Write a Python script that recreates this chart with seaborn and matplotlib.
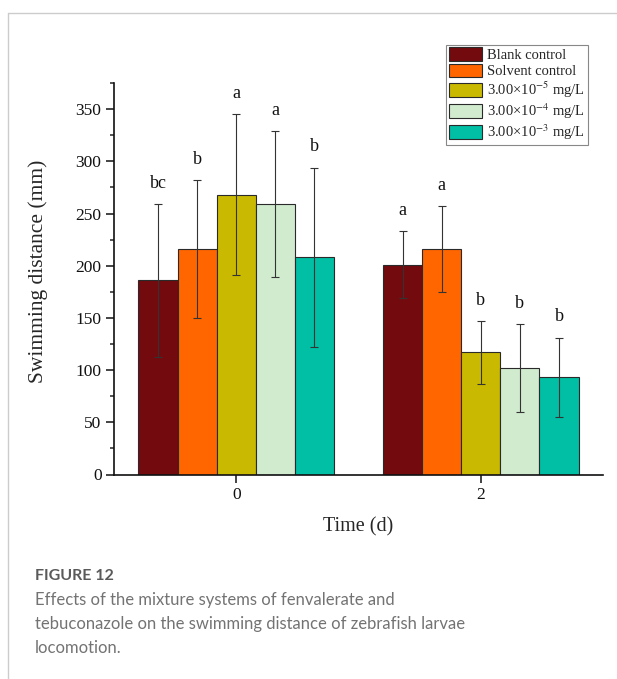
import matplotlib
matplotlib.use("Agg")
import matplotlib.pyplot as plt
from matplotlib.lines import Line2D
from matplotlib.ticker import MultipleLocator
import numpy as np
import pandas as pd
import seaborn as sns

# Swimming distance (mm) per treatment at day 0 and day 2
times = ["0", "2"]
groups = ["Blank control", "Solvent control",
          "3.00×10$^{-5}$ mg/L", "3.00×10$^{-4}$ mg/L", "3.00×10$^{-3}$ mg/L"]
mean_d0 = [186, 216, 268, 259, 208]
sd_d0 = [73, 66, 77, 70, 86]
mean_d2 = [201, 216, 117, 102, 93]
sd_d2 = [32, 41, 30, 42, 38]
letters_d0 = ["bc", "b", "a", "a", "b"]
letters_d2 = ["a", "a", "b", "b", "b"]
colors = ["#730a0e", "#ff6600", "#c9b900", "#d1ebcf", "#00bfa5"]

rows = []
for t, means, sds, lets in [(times[0], mean_d0, sd_d0, letters_d0),
                            (times[1], mean_d2, sd_d2, letters_d2)]:
    for g, m, s, l in zip(groups, means, sds, lets):
        rows.append({"time": t, "group": g, "mean": m, "sd": s, "letter": l})
df = pd.DataFrame(rows)

sns.set_style("ticks")
plt.rcParams["font.family"] = ["Liberation Serif", "DejaVu Serif"]
plt.rcParams["mathtext.fontset"] = "stix"

W, H = 617, 679
fig = plt.figure(figsize=(W / 100, H / 100), dpi=100)
ax = fig.add_axes([114 / W, 1 - 474.5 / H, (603 - 114) / W, (474.5 - 83) / H])

sns.barplot(data=df, x="time", y="mean", hue="group", hue_order=groups,
            order=times, palette=colors, width=0.8, errorbar=None,
            edgecolor="#2a2a2a", linewidth=0.8, saturation=1, ax=ax)
if ax.get_legend() is not None:
    ax.get_legend().remove()

# error bars and significance letters on each bar
for container, g in zip(ax.containers, groups):
    sub = df[df["group"] == g].set_index("time").loc[times]
    for bar, (_, r) in zip(container, sub.iterrows()):
        xc = bar.get_x() + bar.get_width() / 2
        ax.errorbar(xc, r["mean"], yerr=r["sd"], fmt="none", ecolor="#333333",
                    elinewidth=0.8, capsize=3.2, capthick=0.8, zorder=3)
        ax.annotate(r["letter"], (xc, r["mean"] + r["sd"]),
                    xytext=(0, 9), textcoords="offset points",
                    ha="center", va="bottom", fontsize=13, color="#111111")

ax.set_ylim(0, 375)
ax.set_xlim(-0.5, 1.5)
ax.yaxis.set_major_locator(MultipleLocator(50))
ax.yaxis.set_minor_locator(MultipleLocator(25))
ax.set_yticks(np.arange(0, 351, 50))
ax.tick_params(axis="both", which="major", direction="out", length=5.5,
               width=1.1, labelsize=12.5, colors="#111111", pad=3.5)
ax.tick_params(axis="y", which="minor", direction="out", length=3, width=1.1)
sns.despine(ax=ax)
for side in ["left", "bottom"]:
    ax.spines[side].set_linewidth(1.2)
    ax.spines[side].set_color("#111111")

ax.set_xlabel("Time (d)", fontsize=14.5, labelpad=10)
ax.set_ylabel("Swimming distance (mm)", fontsize=15.5, labelpad=20)
ax.yaxis.label.set_y(0.52)

handles = [plt.Rectangle((0, 0), 1, 1, facecolor=c, edgecolor="#2a2a2a",
                         linewidth=0.8) for c in colors]
leg = fig.legend(handles, groups, loc="upper right",
                 bbox_to_anchor=(587.5 / W, 1 - 44.5 / H),
                 fontsize=10.5, frameon=True, fancybox=False, framealpha=1,
                 edgecolor="#888888", handlelength=2.3, handleheight=1.05,
                 labelspacing=0.1, handletextpad=0.3, borderpad=0.2,
                 borderaxespad=0)
leg.get_frame().set_linewidth(0.8)

# page frame around the figure panel
fig.add_artist(Line2D([8 / W, 1], [1 - 13 / H, 1 - 13 / H],
                      transform=fig.transFigure, color="#cccccc", lw=1))
fig.add_artist(Line2D([8 / W, 8 / W], [0, 1 - 13 / H],
                      transform=fig.transFigure, color="#cccccc", lw=1))

cap_font = ["Lato", "DejaVu Sans"]
fig.text(35 / W, 1 - 576 / H, "FIGURE 12", fontsize=11.5, fontweight="bold",
         color="#5a5a5a", family=cap_font, va="center", ha="left")
caption = ("Effects of the mixture systems of fenvalerate and\n"
           "tebuconazole on the swimming distance of zebrafish larvae\n"
           "locomotion.")
fig.text(35 / W, 1 - 592 / H, caption, fontsize=12, color="#737373",
         family=cap_font, va="top", ha="left", linespacing=1.6)

fig.savefig("out.png", dpi=100)
